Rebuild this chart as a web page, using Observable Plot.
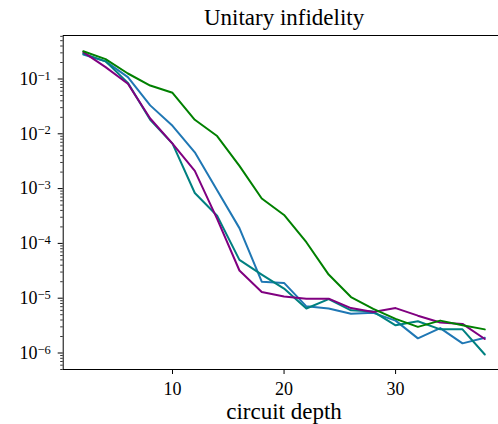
<!DOCTYPE html>
<html>
<head>
<meta charset="utf-8">
<script src="https://cdn.jsdelivr.net/npm/d3@7"></script>
<script src="https://cdn.jsdelivr.net/npm/@observablehq/plot@0.6"></script>
<style>
  html, body { margin: 0; padding: 0; background: #fff; overflow: hidden; }
  #chart { width: 498px; height: 424px; overflow: hidden; }
  #chart svg { max-width: none !important; height: 424px !important; width: 520px !important; }
</style>
</head>
<body>
<div id="chart"></div>
<script>
// ---- data ----
const depth = [2, 4, 6, 8, 10, 12, 14, 16, 18, 20, 22, 24, 26, 28, 30, 32, 34, 36, 38];
const seriesNames = ["run A", "run B", "run C", "run D"];
const seriesColors = ["#1f77b4", "#008080", "#800080", "#008000"];
const runAValues = [0.28, 0.21, 0.108, 0.033, 0.014, 0.0046, 9.3e-4, 1.9e-4, 2.0e-5, 1.9e-5, 7.1e-6, 6.5e-6, 5.2e-6, 5.4e-6, 3.9e-6, 1.85e-6, 2.85e-6, 1.5e-6, 1.9e-6];
const runBValues = [0.29, 0.21, 0.085, 0.018, 0.0066, 8.3e-4, 3.2e-4, 5.0e-5, 2.7e-5, 1.5e-5, 6.5e-6, 9.6e-6, 6.0e-6, 5.7e-6, 3.2e-6, 3.8e-6, 2.7e-6, 2.7e-6, 9.4e-7];
const runCValues = [0.31, 0.165, 0.082, 0.019, 0.0066, 0.0021, 2.8e-4, 3.2e-5, 1.3e-5, 1.07e-5, 9.8e-6, 9.8e-6, 6.6e-6, 5.6e-6, 6.6e-6, 4.8e-6, 3.6e-6, 3.4e-6, 1.8e-6];
const runDValues = [0.32, 0.23, 0.126, 0.076, 0.056, 0.018, 0.0091, 0.0026, 6.6e-4, 3.3e-4, 1.05e-4, 2.7e-5, 1.05e-5, 6.4e-6, 4.2e-6, 3.0e-6, 3.9e-6, 3.2e-6, 2.7e-6];
const xTicks = [10, 20, 30];
const yMajorTicks = [1e-1, 1e-2, 1e-3, 1e-4, 1e-5, 1e-6];
const yTickLabels = ["10^−1", "10^−2", "10^−3", "10^−4", "10^−5", "10^−6"];
const titleText = "Unitary infidelity";
const xLabelText = "circuit depth";

// ---- build table ----
const valuesBySeries = [runAValues, runBValues, runCValues, runDValues];
const rows = [];
seriesNames.forEach((name, i) => {
  depth.forEach((d, j) => rows.push({series: name, depth: d, value: valuesBySeries[i][j]}));
});

const yDomain = [5.0e-7, 0.622];
const minorTicks = [];
for (let e = -7; e <= -1; e++) {
  for (let m = 2; m <= 9; m++) {
    const v = m * Math.pow(10, e);
    if (v >= yDomain[0] && v <= yDomain[1]) minorTicks.push(v);
  }
}

const plot = Plot.plot({
  width: 520,
  height: 424,
  marginTop: 35,
  marginBottom: 55,
  marginLeft: 62.7,
  marginRight: 15.6,
  style: {fontFamily: "'Liberation Serif', serif", fontSize: "18px", background: "#fff", color: "#000", maxWidth: "none"},
  x: {domain: [0.2, 39.8], label: null},
  y: {type: "log", domain: yDomain, label: null},
  color: {domain: seriesNames, range: seriesColors},
  marks: [
    Plot.axisY(minorTicks, {tickSize: 2.5, tickFormat: () => "", label: null, strokeWidth: 0.8}),
    Plot.axisY(yMajorTicks, {tickSize: 5, tickPadding: 7.5, label: null, strokeWidth: 1,
      tickFormat: (d) => yTickLabels[yMajorTicks.indexOf(d)]}),
    Plot.axisX(xTicks, {tickSize: 5, tickPadding: 8, label: null, strokeWidth: 1, tickFormat: (d) => String(d)}),
    Plot.lineY(rows, {x: "depth", y: "value", stroke: "series", z: "series", strokeWidth: 2}),
    Plot.frame({stroke: "#000", strokeWidth: 1}),
    Plot.text([titleText], {frameAnchor: "top", dy: -18, fontSize: 23, lineAnchor: "middle"}),
    Plot.text([xLabelText], {frameAnchor: "bottom", dy: 42, fontSize: 23, lineAnchor: "middle"})
  ]
});

// superscript exponents on y tick labels
d3.select(plot).selectAll("text").each(function() {
  const t = this.textContent;
  if (t.includes("^") && this.childNodes.length === 1) {
    const parts = t.split("^");
    this.textContent = parts[0];
    d3.select(this).append("tspan").attr("dy", "-0.42em").attr("font-size", "12.5px").text(parts[1]);
  }
});

document.getElementById("chart").appendChild(plot);
</script>
</body>
</html>
